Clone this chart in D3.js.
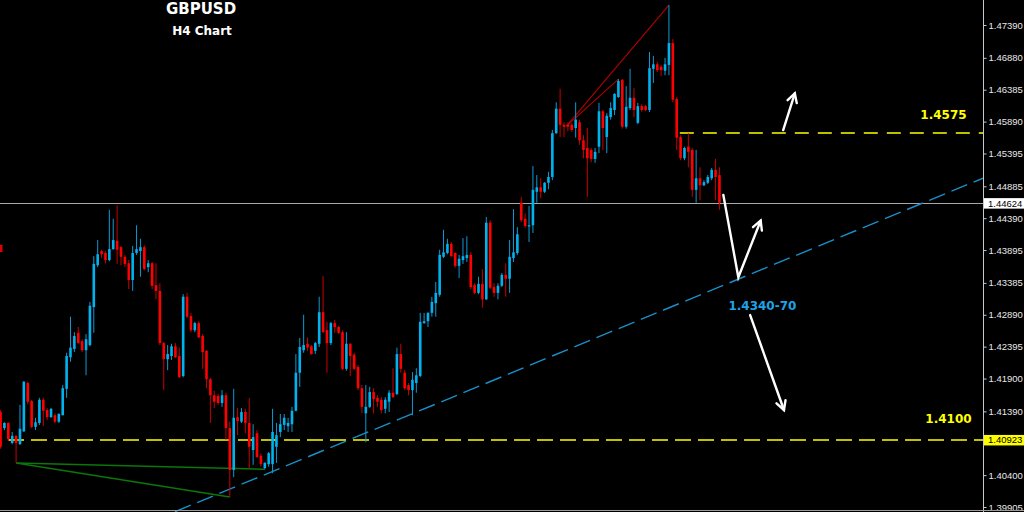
<!DOCTYPE html>
<html><head><meta charset="utf-8">
<script src="https://cdn.jsdelivr.net/npm/d3@7"></script>
<style>html,body{margin:0;padding:0;background:#000;overflow:hidden}</style>
</head><body><svg id="c" width="1024" height="512"></svg>
<script>
// ---- data (GBPUSD H4 candles, oldest -> newest) ----
const opens=[1.4138,1.4113,1.4121,1.4090,1.4101,1.4088,1.4108,1.4183,1.4155,1.4115,
1.4121,1.4157,1.4141,1.4130,1.4133,1.4123,1.4133,1.4174,1.4223,1.4236,
1.4261,1.4248,1.4234,1.4242,1.4301,1.4366,1.4388,1.4385,1.4374,1.4391,
1.4404,1.4394,1.4379,1.4369,1.4343,1.4385,1.4388,1.4394,1.4363,1.4369,
1.4335,1.4326,1.4245,1.4220,1.4225,1.4240,1.4225,1.4194,1.4317,1.4287,
1.4265,1.4276,1.4256,1.4233,1.4189,1.4164,1.4163,1.4152,1.4164,1.4113,
1.4048,1.4130,1.4123,1.4138,1.4121,1.4079,1.4105,1.4070,1.4051,1.4057,
1.4057,1.4084,1.4107,1.4118,1.4116,1.4119,1.4140,1.4199,1.4234,1.4244,
1.4240,1.4233,1.4244,1.4293,1.4265,1.4245,1.4276,1.4270,1.4262,1.4205,
1.4244,1.4227,1.4208,1.4175,1.4136,1.4146,1.4169,1.4160,1.4157,1.4143,
1.4154,1.4168,1.4166,1.4228,1.4199,1.4180,1.4172,1.4183,1.4194,1.4276,
1.4279,1.4292,1.4307,1.4320,1.4379,1.4385,1.4399,1.4385,1.4365,1.4374,
1.4377,1.4382,1.4335,1.4323,1.4337,1.4313,1.4432,1.4332,1.4323,1.4334,
1.4351,1.4345,1.4377,1.4385,1.4463,1.4438,1.4427,1.4428,1.4480,1.4487,
1.4480,1.4494,1.4503,1.4571,1.4609,1.4584,1.4584,1.4584,1.4579,1.4588,
1.4560,1.4548,1.4545,1.4531,1.4550,1.4605,1.4565,1.4596,1.4607,1.4627,
1.4654,1.4581,1.4610,1.4626,1.4587,1.4613,1.4613,1.4607,1.4671,1.4678,
1.4674,1.4668,1.4677,1.4711,1.4624,1.4565,1.4532,1.4550,1.4545,1.4483,
1.4501,1.4490,1.4494,1.4501,1.4514,1.4506];
const highs=[1.4141,1.4122,1.4122,1.4107,1.4102,1.4149,1.4186,1.4185,1.4157,1.4129,
1.4160,1.4160,1.4144,1.4144,1.4136,1.4136,1.4180,1.4230,1.4286,1.4262,
1.4270,1.4251,1.4259,1.4309,1.4380,1.4405,1.4390,1.4388,1.4452,1.4438,
1.4459,1.4396,1.4382,1.4374,1.4396,1.4428,1.4407,1.4397,1.4374,1.4371,
1.4369,1.4338,1.4247,1.4242,1.4244,1.4245,1.4238,1.4321,1.4323,1.4292,
1.4278,1.4279,1.4259,1.4234,1.4191,1.4171,1.4166,1.4172,1.4168,1.4123,
1.4174,1.4144,1.4144,1.4143,1.4160,1.4119,1.4110,1.4074,1.4060,1.4076,
1.4143,1.4121,1.4135,1.4135,1.4129,1.4146,1.4228,1.4253,1.4289,1.4254,
1.4242,1.4247,1.4317,1.4349,1.4278,1.4278,1.4281,1.4272,1.4265,1.4262,
1.4245,1.4230,1.4211,1.4180,1.4180,1.4177,1.4175,1.4164,1.4161,1.4161,
1.4172,1.4206,1.4238,1.4244,1.4203,1.4183,1.4200,1.4206,1.4292,1.4292,
1.4293,1.4317,1.4340,1.4390,1.4421,1.4407,1.4402,1.4386,1.4382,1.4408,
1.4411,1.4386,1.4338,1.4348,1.4360,1.4441,1.4436,1.4338,1.4338,1.4354,
1.4369,1.4405,1.4453,1.4425,1.4472,1.4446,1.4458,1.4520,1.4506,1.4501,
1.4495,1.4511,1.4576,1.4619,1.4640,1.4588,1.4588,1.4587,1.4619,1.4592,
1.4568,1.4579,1.4548,1.4548,1.4618,1.4607,1.4602,1.4619,1.4633,1.4655,
1.4655,1.4644,1.4671,1.4641,1.4618,1.4616,1.4615,1.4697,1.4691,1.4682,
1.4677,1.4688,1.4770,1.4717,1.4627,1.4568,1.4550,1.4571,1.4548,1.4545,
1.4518,1.4498,1.4506,1.4517,1.4531,1.4518];
const lows=[1.4081,1.4110,1.4093,1.4088,1.4059,1.4087,1.4107,1.4150,1.4113,1.4110,
1.4118,1.4116,1.4126,1.4129,1.4121,1.4121,1.4133,1.4160,1.4216,1.4231,
1.4244,1.4231,1.4195,1.4240,1.4261,1.4363,1.4377,1.4369,1.4372,1.4390,
1.4368,1.4366,1.4363,1.4329,1.4326,1.4382,1.4348,1.4358,1.4355,1.4329,
1.4313,1.4242,1.4172,1.4203,1.4219,1.4222,1.4191,1.4192,1.4284,1.4262,
1.4262,1.4253,1.4205,1.4175,1.4121,1.4144,1.4149,1.4146,1.4095,1.4006,
1.4037,1.4102,1.4121,1.4105,1.4051,1.4056,1.4067,1.4053,1.4049,1.4053,
1.4043,1.4059,1.4099,1.4110,1.4107,1.4107,1.4139,1.4177,1.4230,1.4233,
1.4227,1.4228,1.4239,1.4261,1.4199,1.4242,1.4261,1.4259,1.4203,1.4202,
1.4194,1.4203,1.4172,1.4136,1.4091,1.4144,1.4136,1.4146,1.4136,1.4136,
1.4138,1.4160,1.4164,1.4199,1.4172,1.4164,1.4133,1.4168,1.4192,1.4275,
1.4270,1.4286,1.4286,1.4317,1.4377,1.4383,1.4379,1.4362,1.4346,1.4368,
1.4371,1.4329,1.4321,1.4321,1.4300,1.4312,1.4329,1.4317,1.4313,1.4332,
1.4317,1.4323,1.4371,1.4382,1.4433,1.4424,1.4402,1.4416,1.4463,1.4470,
1.4478,1.4484,1.4498,1.4570,1.4565,1.4565,1.4574,1.4573,1.4564,1.4553,
1.4532,1.4472,1.4526,1.4525,1.4540,1.4545,1.4540,1.4592,1.4599,1.4626,
1.4578,1.4578,1.4607,1.4596,1.4585,1.4604,1.4605,1.4604,1.4649,1.4666,
1.4660,1.4661,1.4661,1.4619,1.4545,1.4529,1.4529,1.4518,1.4472,1.4463,
1.4467,1.4489,1.4492,1.4498,1.4467,1.4452];
const closes=[1.4084,1.4121,1.4096,1.4101,1.4090,1.4112,1.4185,1.4154,1.4115,1.4122,
1.4157,1.4140,1.4130,1.4143,1.4123,1.4135,1.4175,1.4225,1.4238,1.4256,
1.4245,1.4234,1.4251,1.4303,1.4368,1.4383,1.4383,1.4374,1.4391,1.4405,
1.4390,1.4379,1.4368,1.4343,1.4385,1.4391,1.4394,1.4360,1.4369,1.4334,
1.4326,1.4245,1.4220,1.4228,1.4240,1.4223,1.4192,1.4317,1.4286,1.4265,
1.4276,1.4254,1.4231,1.4189,1.4164,1.4154,1.4152,1.4164,1.4113,1.4048,
1.4129,1.4124,1.4138,1.4121,1.4084,1.4099,1.4068,1.4057,1.4059,1.4074,
1.4107,1.4102,1.4119,1.4129,1.4121,1.4140,1.4199,1.4239,1.4242,1.4238,
1.4228,1.4245,1.4293,1.4262,1.4245,1.4276,1.4270,1.4261,1.4205,1.4244,
1.4225,1.4205,1.4175,1.4146,1.4146,1.4169,1.4158,1.4154,1.4141,1.4157,
1.4168,1.4161,1.4228,1.4205,1.4175,1.4172,1.4188,1.4195,1.4278,1.4279,
1.4292,1.4309,1.4323,1.4382,1.4386,1.4399,1.4380,1.4365,1.4376,1.4380,
1.4382,1.4332,1.4323,1.4337,1.4313,1.4432,1.4331,1.4323,1.4334,1.4351,
1.4345,1.4379,1.4386,1.4414,1.4436,1.4427,1.4428,1.4483,1.4487,1.4480,
1.4494,1.4503,1.4571,1.4609,1.4584,1.4581,1.4581,1.4576,1.4592,1.4560,
1.4545,1.4532,1.4531,1.4542,1.4605,1.4579,1.4598,1.4610,1.4632,1.4652,
1.4581,1.4612,1.4626,1.4607,1.4613,1.4607,1.4607,1.4672,1.4678,1.4669,
1.4669,1.4678,1.4711,1.4623,1.4564,1.4532,1.4548,1.4542,1.4483,1.4501,
1.4490,1.4495,1.4503,1.4514,1.4503,1.4463];

const yTicks=[1.47390,1.46880,1.46385,1.45890,1.45395,1.44885,1.44390,1.43895,
1.43385,1.42890,1.42395,1.41900,1.41390,1.40400,1.39905];
const bidPrice=1.44624;
const supportPrice=1.40923;
const resistPrice=1.45712;
const resistStart=174.8;
// trend/annotation objects in (candle index, price)
const trendLine=[[44.9,1.39832],[252.8,1.45011]];
const greenLines=[[[4,1.4059],[68,1.4049]],[[4,1.4059],[59,1.4006]]];
const redLines=[[[145.6,1.4582],[172,1.4770]],[[145.6,1.4582],[159,1.4655]]];
const arrows=[
  [[201.4,1.45759],[204.4,1.46329]],
  [[186.0,1.44750],[189.86,1.43472],[195.6,1.44351]],
  [[192.9,1.42886],[201.6,1.41411]]
];
const labels=[
  {text:"1.4575",i:248.6,p:1.45932,color:"#ffff00",anchor:"end"},
  {text:"1.4100",i:249.9,p:1.41208,color:"#ffff00",anchor:"end"},
  {text:"1.4340-70",i:187.3,p:1.42964,color:"#1fa3e6",anchor:"start"}
];

// ---- chart ----
const W=1024,H=512,axisX=983;
const svg=d3.select("#c");
svg.append("rect").attr("width",W).attr("height",H).attr("fill","#000");

const n=opens.length;
const x=d3.scaleLinear().domain([0,185]).range([0.54,719.45]);
const y=d3.scaleLinear().domain([1.39905,1.47390]).range([507,25]);

svg.append("clipPath").attr("id","plot").append("rect")
  .attr("x",0).attr("y",0).attr("width",axisX).attr("height",H);
const g=svg.append("g").attr("clip-path","url(#plot)");

// horizontal lines
g.append("line").attr("x1",0).attr("x2",axisX).attr("y1",Math.round(y(bidPrice))+0.5).attr("y2",Math.round(y(bidPrice))+0.5)
  .attr("stroke","#a8a8a8").attr("stroke-width",1);
g.append("line").attr("x1",0).attr("x2",axisX).attr("y1",y(supportPrice)-1.5).attr("y2",y(supportPrice)-1.5)
  .attr("stroke","#ffff00").attr("stroke-width",1.4).attr("stroke-dasharray","16,7").attr("stroke-dashoffset",-8);
g.append("line").attr("x1",x(resistStart)).attr("x2",axisX).attr("y1",y(resistPrice)).attr("y2",y(resistPrice))
  .attr("stroke","#ffff00").attr("stroke-width",1.4).attr("stroke-dasharray","14,9");

// trendline
const line=d3.line().x(d=>x(d[0])).y(d=>y(d[1]));
g.append("path").attr("d",line(trendLine)).attr("fill","none")
  .attr("stroke","#1a8fc8").attr("stroke-width",1.4).attr("stroke-dasharray","17,7");
greenLines.forEach(l=>g.append("path").attr("d",line(l)).attr("fill","none")
  .attr("stroke","#0b760b").attr("stroke-width",1.5));
redLines.forEach(l=>g.append("path").attr("d",line(l)).attr("fill","none")
  .attr("stroke","#b30000").attr("stroke-width",1.1));

// small marker at left edge
g.append("rect").attr("x",0).attr("y",245).attr("width",2.5).attr("height",7).attr("fill","#e00000");

// candles
const idx=d3.range(n);
const bw=2.6;
const bull="#00b2ee", bear="#ff0000";
g.selectAll("line.wick").data(idx).join("line").attr("class","wick")
  .attr("x1",i=>x(i)).attr("x2",i=>x(i))
  .attr("y1",i=>y(highs[i])).attr("y2",i=>y(lows[i]))
  .attr("stroke",i=>closes[i]>=opens[i]?"#0a9ad6":"#c80000").attr("stroke-width",1);
g.selectAll("rect.body").data(idx).join("rect").attr("class","body")
  .attr("x",i=>x(i)-bw/2).attr("width",bw)
  .attr("y",i=>y(Math.max(opens[i],closes[i])))
  .attr("height",i=>Math.max(1.2,Math.abs(y(opens[i])-y(closes[i]))))
  .attr("fill",i=>closes[i]>=opens[i]?bull:bear);

// arrows
arrows.forEach(a=>{
  const pts=a.map(d=>[x(d[0]),y(d[1])]);
  g.append("path").attr("d",d3.line()(pts)).attr("fill","none")
    .attr("stroke","#fff").attr("stroke-width",2.4).attr("stroke-linejoin","miter").attr("stroke-linecap","round");
  const p1=pts[pts.length-2],p2=pts[pts.length-1];
  const ang=Math.atan2(p2[1]-p1[1],p2[0]-p1[0]),L=10,th=0.5;
  const w1=[p2[0]-L*Math.cos(ang-th),p2[1]-L*Math.sin(ang-th)];
  const w2=[p2[0]-L*Math.cos(ang+th),p2[1]-L*Math.sin(ang+th)];
  g.append("path").attr("d",d3.line()([w1,p2,w2])).attr("fill","none")
    .attr("stroke","#fff").attr("stroke-width",2.4).attr("stroke-linecap","round").attr("stroke-linejoin","miter");
});

// annotation labels
labels.forEach(l=>svg.append("text").attr("x",x(l.i)).attr("y",y(l.p))
  .attr("text-anchor",l.anchor).attr("fill",l.color)
  .attr("font-family","DejaVu Sans, Verdana, sans-serif").attr("font-weight","bold").attr("font-size",12)
  .text(l.text));

// title
svg.append("text").attr("x",201).attr("y",14).attr("text-anchor","middle").attr("fill","#fff")
  .attr("font-family","DejaVu Sans, Verdana, sans-serif").attr("font-weight","bold").attr("font-size",15).text("GBPUSD");
svg.append("text").attr("x",202).attr("y",34.5).attr("text-anchor","middle").attr("fill","#fff")
  .attr("font-family","DejaVu Sans, Verdana, sans-serif").attr("font-weight","bold").attr("font-size",12).text("H4 Chart");

// right axis
const ax=svg.append("g").attr("transform",`translate(${axisX+0.5},0)`)
  .call(d3.axisRight(y).tickValues(yTicks).tickSize(3).tickPadding(2).tickFormat(d3.format(".5f")));
ax.select(".domain").remove();
ax.selectAll(".tick line").attr("stroke","#c8c8c8");
ax.selectAll(".tick text").attr("fill","#e8e8e8").attr("font-family","Liberation Sans, Arial, sans-serif").attr("font-size",9.5);
svg.append("line").attr("x1",axisX+0.5).attr("x2",axisX+0.5).attr("y1",0).attr("y2",H).attr("stroke","#c8c8c8");
svg.append("line").attr("x1",0).attr("x2",W).attr("y1",510.5).attr("y2",510.5).attr("stroke","#9a9a9a");

// price labels on axis
function priceTag(p,bg,dy){
  const yy=y(p)+dy;
  svg.append("rect").attr("x",axisX+1).attr("y",yy-5).attr("width",W-axisX-1).attr("height",10.5).attr("fill",bg);
  svg.append("text").attr("x",axisX+5).attr("y",yy+3.5).attr("fill","#000")
    .attr("font-family","Liberation Sans, Arial, sans-serif").attr("font-size",9.5).text(d3.format(".5f")(p));
}
priceTag(bidPrice,"#ffffff",0);
priceTag(supportPrice,"#ffff00",-1.5);
</script></body></html>
